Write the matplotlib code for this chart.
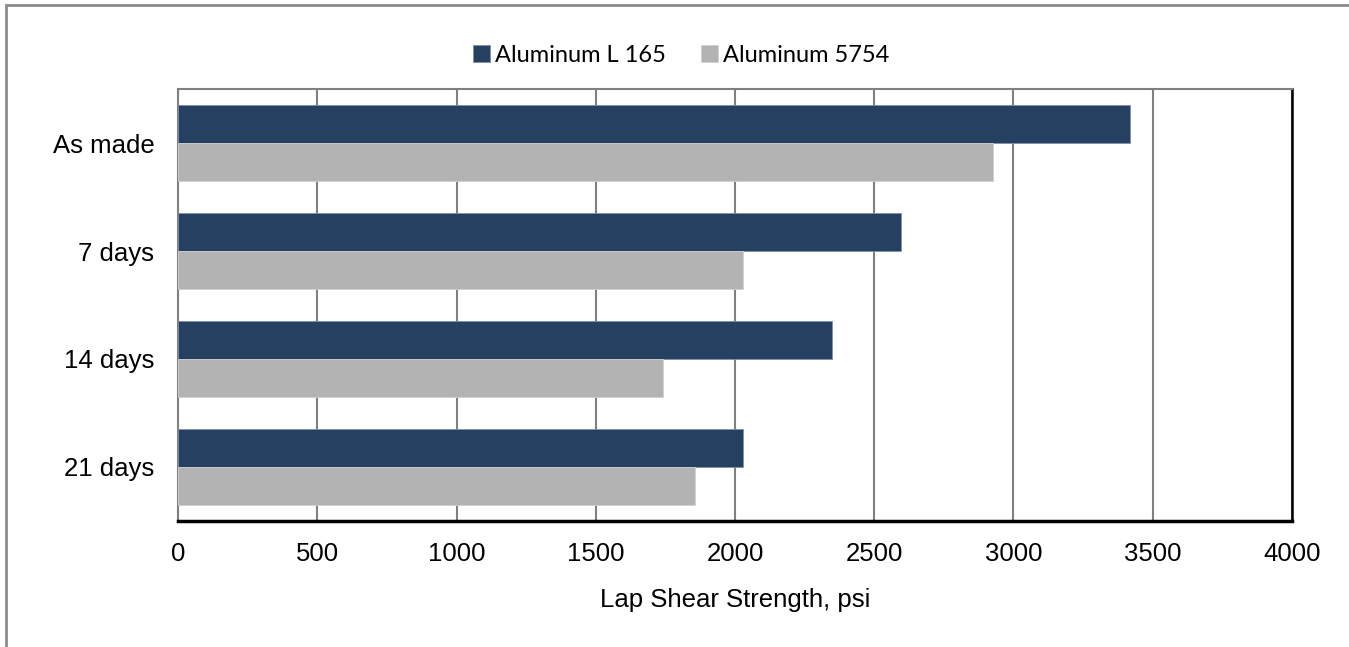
import matplotlib
matplotlib.use("Agg")
import matplotlib.pyplot as plt
import numpy as np
from matplotlib.patches import Rectangle

# lap shear strength after ageing, two aluminium substrates
conditions = ["As made", "7 days", "14 days", "21 days"]
al_l165 = [3420, 2595, 2350, 2030]
al_5754 = [2928, 2030, 1740, 1856]
series_names = ["Aluminum L 165", "Aluminum 5754"]
xticks = [0, 500, 1000, 1500, 2000, 2500, 3000, 3500, 4000]

dark = "#264061"
light = "#b3b3b3"

fig = plt.figure(figsize=(13.49, 6.47), dpi=100)
ax = fig.add_axes([0.132, 0.1955, 0.8257, 0.6662])

# outer chart frame (cut off on right/bottom like the source)
fig.patches.append(Rectangle((6 / 1349, -0.1), 1.2, 1 - 5 / 647 + 0.1,
                             transform=fig.transFigure, fill=False,
                             edgecolor="#8c8c8c", linewidth=2))

y = np.arange(len(conditions))
h = 0.353
ax.barh(y - h / 2, al_l165, height=h, color=dark, edgecolor="#7f90a8",
        linewidth=0.6, label=series_names[0], zorder=3)
ax.barh(y + h / 2, al_5754, height=h, color=light, edgecolor="#d0d0d0",
        linewidth=0.6, label=series_names[1], zorder=3)

ax.set_ylim(len(conditions) - 0.5, -0.5)
ax.set_xlim(0, 4000)
ax.set_yticks(y)
ax.set_yticklabels(conditions, family="Liberation Sans", fontsize=18.5)
ax.set_xticks(xticks)
ax.set_xticklabels([str(t) for t in xticks], family="Liberation Sans", fontsize=18.5)
ax.tick_params(axis="both", length=0)
ax.tick_params(axis="y", pad=17)
ax.tick_params(axis="x", pad=15.5)
ax.xaxis.grid(True, color="#808080", linewidth=1.5, zorder=0)
ax.set_axisbelow(True)

ax.spines["top"].set_color("#808080")
ax.spines["top"].set_linewidth(1.5)
ax.spines["left"].set_color("#808080")
ax.spines["left"].set_linewidth(1.5)
ax.spines["right"].set_color("black")
ax.spines["right"].set_linewidth(1.8)
ax.spines["bottom"].set_color("black")
ax.spines["bottom"].set_linewidth(2.5)

ax.set_xlabel("Lap Shear Strength, psi", family="Liberation Sans", fontsize=18.5,
              labelpad=15.5)

fig.legend(loc="center", bbox_to_anchor=(0.5048, 0.914), ncol=2, frameon=False,
           handlelength=0.74, handleheight=0.74, handletextpad=0.18,
           columnspacing=1.5, prop={"family": "Lato", "size": 17})

fig.savefig("out.png", dpi=100)
